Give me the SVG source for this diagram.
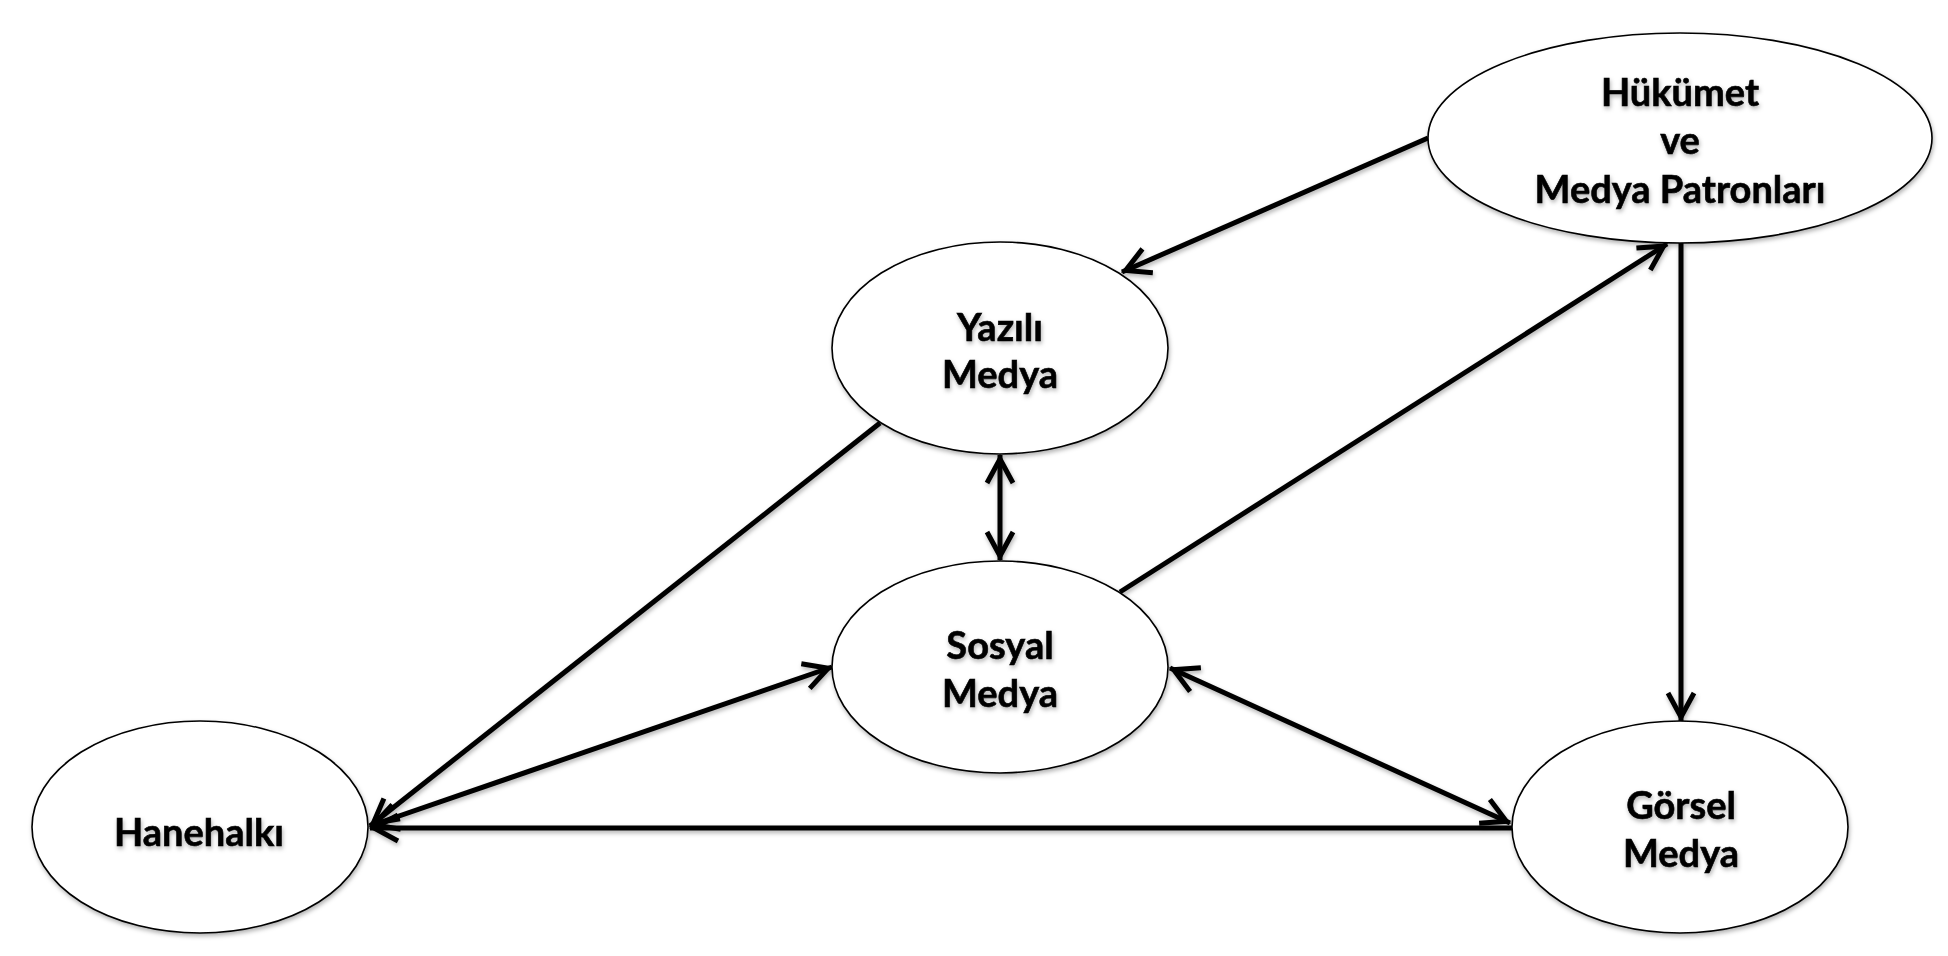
<svg xmlns="http://www.w3.org/2000/svg" width="1948" height="956" viewBox="0 0 1948 956">
  <defs>
    <style>
      .node ellipse { fill: #ffffff; stroke: #000000; stroke-width: 1.6; }
      .node text { font-family: Lato, "Open Sans", "Liberation Sans", sans-serif; font-weight: bold; font-size: 38px; text-anchor: middle; fill: #000000; stroke: #000000; stroke-width: 0.6; }
      .conn line { stroke: #000000; stroke-width: 5; fill: none; }
    </style>
    <filter id="sh" x="-10%" y="-10%" width="120%" height="130%">
      <feDropShadow dx="1" dy="2.5" stdDeviation="2" flood-color="#000000" flood-opacity="0.3"/>
    </filter>
    <marker id="arr" viewBox="-32 -18 40 36" markerWidth="40" markerHeight="36" refX="4" refY="0" orient="auto-start-reverse" markerUnits="userSpaceOnUse">
      <path d="M -24 -13 L 0 0 L -24 13" fill="none" stroke="#000000" stroke-width="5" stroke-linejoin="miter"/>
    </marker>
  </defs>
  <rect x="0" y="0" width="1948" height="956" fill="#ffffff"/>

  <g id="connectors" class="conn" filter="url(#sh)">
    <line x1="1428" y1="138" x2="1122" y2="272" marker-end="url(#arr)"/>
    <line x1="1000" y1="455" x2="1000" y2="560" marker-start="url(#arr)" marker-end="url(#arr)"/>
    <line x1="1120" y1="592" x2="1667" y2="244" marker-end="url(#arr)"/>
    <line x1="1681" y1="243" x2="1681" y2="721" marker-end="url(#arr)"/>
    <line x1="880" y1="423" x2="370" y2="826" marker-end="url(#arr)"/>
    <line x1="370" y1="826" x2="832" y2="667" marker-start="url(#arr)" marker-end="url(#arr)"/>
    <line x1="1512" y1="828" x2="370" y2="828" marker-end="url(#arr)"/>
    <line x1="1170" y1="668" x2="1510" y2="823" marker-start="url(#arr)" marker-end="url(#arr)"/>
  </g>

  <g id="hukumet" class="node">
    <ellipse cx="1680" cy="138" rx="252" ry="105" filter="url(#sh)"/>
    <text x="1680" y="106" filter="url(#sh)">Hükümet</text>
    <text x="1680" y="154" filter="url(#sh)">ve</text>
    <text x="1680" y="203" filter="url(#sh)">Medya Patronları</text>
  </g>

  <g id="yazili" class="node">
    <ellipse cx="1000" cy="348" rx="168" ry="106" filter="url(#sh)"/>
    <text x="1000" y="341" filter="url(#sh)">Yazılı</text>
    <text x="1000" y="388" filter="url(#sh)">Medya</text>
  </g>

  <g id="sosyal" class="node">
    <ellipse cx="1000" cy="667" rx="168" ry="106" filter="url(#sh)"/>
    <text x="1000" y="659" filter="url(#sh)">Sosyal</text>
    <text x="1000" y="707" filter="url(#sh)">Medya</text>
  </g>

  <g id="hanehalki" class="node">
    <ellipse cx="200" cy="827" rx="168" ry="106" filter="url(#sh)"/>
    <text x="199" y="846" filter="url(#sh)">Hanehalkı</text>
  </g>

  <g id="gorsel" class="node">
    <ellipse cx="1680" cy="827" rx="168" ry="106" filter="url(#sh)"/>
    <text x="1681" y="819" filter="url(#sh)">Görsel</text>
    <text x="1681" y="867" filter="url(#sh)">Medya</text>
  </g>
</svg>
